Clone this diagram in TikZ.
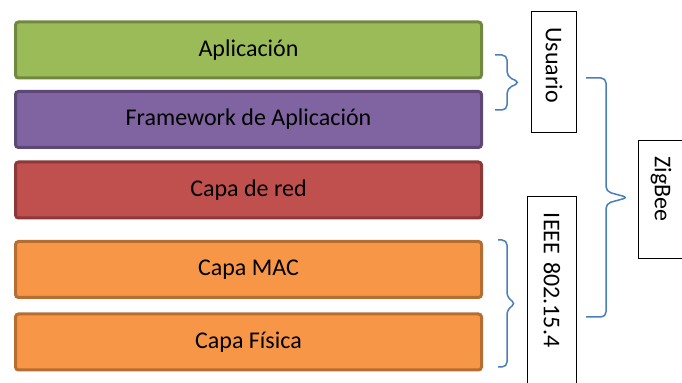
\documentclass[tikz,border=0pt]{standalone}
\usepackage{fontspec}
\setmainfont{Carlito}

\definecolor{appgreen}{HTML}{9BBB59}
\definecolor{appgreendark}{HTML}{71893F}
\definecolor{fwpurple}{HTML}{8064A2}
\definecolor{fwpurpledark}{HTML}{5C4776}
\definecolor{netred}{HTML}{C0504D}
\definecolor{netreddark}{HTML}{8C3836}
\definecolor{macorange}{HTML}{F79646}
\definecolor{macorangedark}{HTML}{B66D31}
\definecolor{braceblue}{HTML}{4A7EBB}

\tikzset{
  layerbox/.style={draw, line width=1.5pt, rounded corners=1.5pt,
    minimum width=233pt, minimum height=28pt,
    font=\fontsize{12}{14}\selectfont},
  labelbox/.style={draw, line width=0.5pt, fill=white, rotate=-90,
    inner xsep=8pt, align=left, minimum height=22.5pt,
    font=\fontsize{12}{14}\selectfont},
  curly/.style={draw=braceblue, line width=0.75pt, rounded corners=2.5pt}
}

\begin{document}
\begin{tikzpicture}[x=0.5pt,y=0.5pt]

    \useasboundingbox (0,0) rectangle (682,383);

    \node[layerbox, fill=appgreen, draw=appgreendark] (app) at (248.5,333)
    {Aplicación};

    \node[layerbox, fill=fwpurple, draw=fwpurpledark] (fw) at (248.5,263.5)
    {Framework de Aplicación};

    \node[layerbox, fill=netred, draw=netreddark] (red) at (248.5,193)
    {Capa de red};

    \node[layerbox, fill=macorange, draw=macorangedark] (mac) at (248.5,113.5)
    {Capa MAC};

    \node[layerbox, fill=macorange, draw=macorangedark] (phy) at (248.5,41)
    {Capa Física};



    \node[labelbox, text width=44.5pt] (usuario) at (554,311) {Usuario};

    \node[labelbox, text width=43pt] (zigbee) at (661,183.5) {ZigBee};

    \node[labelbox, text width=83pt, minimum height=24.5pt] (ieee) at (552,87)
    {IEEE 802.15.4};



    \coordinate (usertop) at (495,328);
    \coordinate (userbot) at (495,273);
    \draw[curly] (usertop) -- ++(12,0) -- ++(0,-21.5) -- ++(13,-6)
    -- ++(-13,-6) |- (userbot);

    \coordinate (ieeetop) at (498,143);
    \coordinate (ieeebot) at (498,16);
    \draw[curly] (ieeetop) -- ++(9,0) -- ++(0,-57.5) -- ++(9,-6)
    -- ++(-9,-6) |- (ieeebot);

    \coordinate (zbtop) at (586,305);
    \coordinate (zbbot) at (586,66);
    \draw[curly] (zbtop) -- ++(20,0) -- ++(0,-113.5) -- ++(22,-6)
    -- ++(-22,-6) |- (zbbot);

\end{tikzpicture}
\end{document}
